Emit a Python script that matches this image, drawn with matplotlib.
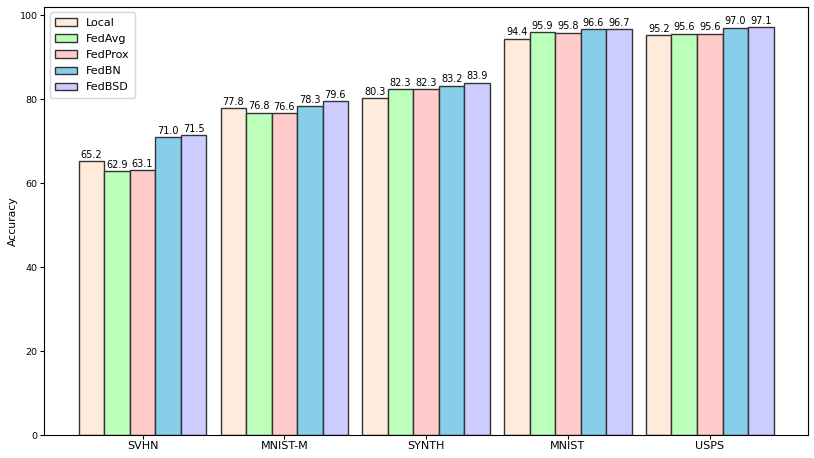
import numpy as np
import matplotlib.pyplot as plt

# Data
datasets = ["SVHN", "MNIST-M", "SYNTH", "MNIST", "USPS"]
methods = ["Local", "FedAvg", "FedProx", "FedBN", "FedBSD"]
local = [65.2, 77.8, 80.3, 94.4, 95.2]
fedavg = [62.9, 76.8, 82.3, 95.9, 95.6]
fedprox = [63.1, 76.6, 82.3, 95.8, 95.6]
fedbn = [71.0, 78.3, 83.2, 96.6, 97.0]
fedbsd = [71.5, 79.6, 83.9, 96.7, 97.1]
colors = ["#FFEBDC", "#BBFFBB", "#FFCCCC", "#87CEEB", "#CCCCFF"]

scores = [local, fedavg, fedprox, fedbn, fedbsd]

fig, ax = plt.subplots(figsize=(8.14, 4.58), dpi=100)
x = np.arange(len(datasets))
width = 0.18

for i, (name, vals) in enumerate(zip(methods, scores)):
    bars = ax.bar(x + (i - 2) * width, vals, width, label=name,
                  color=colors[i], edgecolor="#333333", linewidth=1.0)
    for b, v in zip(bars, vals):
        ax.text(b.get_x() + b.get_width() / 2, v + 0.3, f"{v:.1f}",
                ha="center", va="bottom", fontsize=7)

ax.set_xticks(x)
ax.set_xticklabels(datasets, fontsize=8)
ax.tick_params(axis="y", labelsize=6.8, length=3, pad=1.5)
ax.tick_params(axis="x", length=3, pad=1.5)
ax.set_ylabel("Accuracy", fontsize=7.8, labelpad=1)
ax.legend(loc="upper left", fontsize=8, borderpad=0.5, labelspacing=0.55)

fig.subplots_adjust(left=0.054, right=0.993, top=0.985, bottom=0.05)
fig.savefig("out.png", dpi=100)
